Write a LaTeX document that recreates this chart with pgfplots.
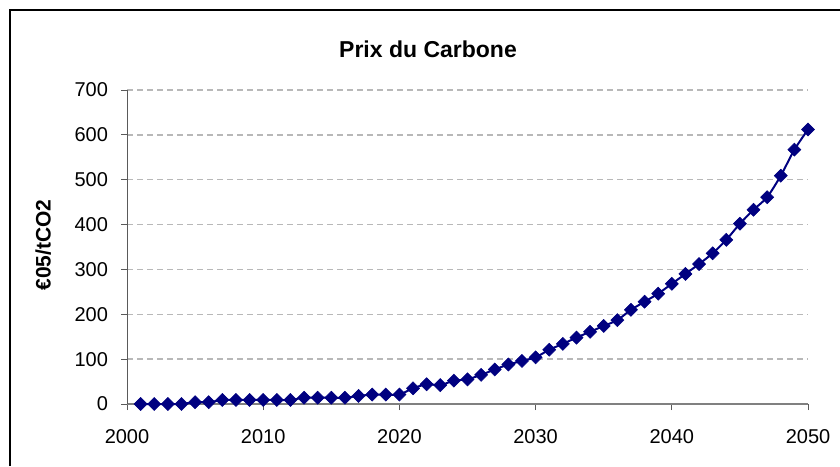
\documentclass[border=0pt]{standalone}
\usepackage{pgfplots}
\pgfplotsset{compat=1.18}
\usepackage{fontspec}
\setmainfont{Liberation Sans}
\definecolor{navy}{HTML}{000080}
\definecolor{gridgray}{HTML}{B8B8B8}
\definecolor{axgray}{HTML}{808080}
\begin{document}
\begin{tikzpicture}
\useasboundingbox (0,0) rectangle (420pt,233pt);
\draw[line width=1.1pt, black] (5pt,0) -- (5pt,228pt) -- (420pt,228pt);
\begin{axis}[
  at={(63.5pt,31pt)}, anchor=south west,
  scale only axis, width=340.5pt, height=157pt,
  xmin=2000, xmax=2050, ymin=0, ymax=700,
  axis lines=left,
  axis line style={-},
  x axis line style={axgray, line width=0.9pt},
  y axis line style={axgray!70!black, line width=0.5pt},
  xtick={2000,2010,2020,2030,2040,2050},
  ytick={0,100,...,700},
  tick align=outside,
  major tick length=3pt,
  every tick/.style={axgray!70!black, line width=0.5pt},
  ymajorgrids,
  major grid style={gridgray, line width=0.65pt, dash pattern=on 3pt off 2pt},
  /pgf/number format/1000 sep={},
  /pgf/number format/assume math mode=true,
  tick label style={font=\fontsize{10}{12}\selectfont, black},
  yticklabel style={xshift=-3pt},
  xticklabel style={yshift=-6pt},
  title={\textbf{Prix du Carbone}},
  title style={font=\fontsize{11.5}{14}\selectfont, at={(axis description cs:0.442,1.066)}, anchor=base},
  ylabel={\textbf{€05/tCO2}},
  ylabel style={font=\fontsize{10.5}{12}\selectfont, at={(axis description cs:-0.123,0.506)}, anchor=center},
  clip=false,
]
\addplot[navy, line width=1pt, smooth, tension=0.4, mark=square*, mark size=2.3pt,
  mark options={rotate=45, fill=navy, draw=navy, line width=0.3pt}] coordinates {
(2001,0) (2002,0) (2003,0) (2004,0) (2005,4) (2006,4) (2007,9) (2008,9) (2009,9) (2010,9)
(2011,9) (2012,9) (2013,14) (2014,14) (2015,14) (2016,14) (2017,18) (2018,21) (2019,21) (2020,21)
(2021,35) (2022,44) (2023,42) (2024,52) (2025,55) (2026,65) (2027,77) (2028,88) (2029,96) (2030,104)
(2031,121) (2032,134) (2033,148) (2034,161) (2035,174) (2036,187) (2037,210) (2038,228) (2039,246) (2040,268)
(2041,290) (2042,312) (2043,336) (2044,366) (2045,402) (2046,433) (2047,461) (2048,509) (2049,567) (2050,612)
};
\end{axis}
\end{tikzpicture}
\end{document}
